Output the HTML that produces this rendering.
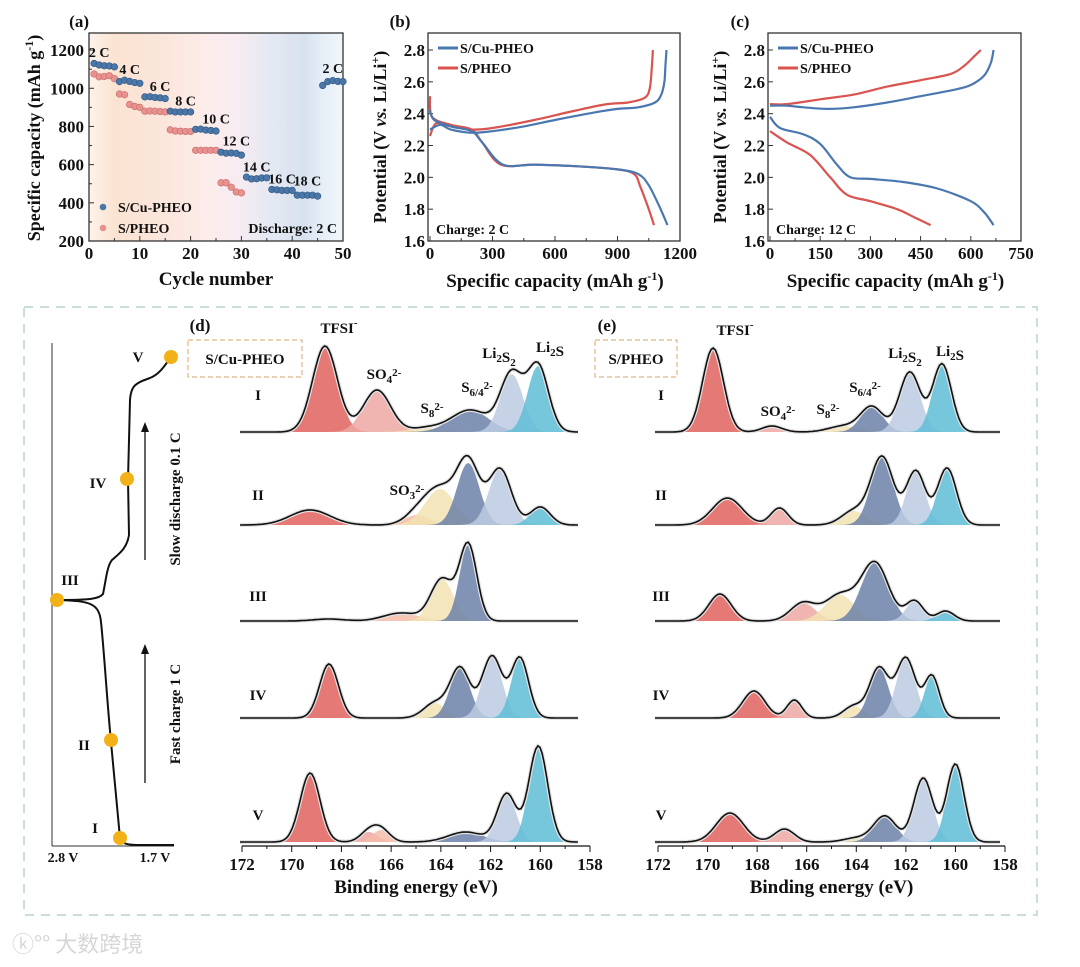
<!DOCTYPE html>
<html><head><meta charset="utf-8"><style>
html,body{margin:0;padding:0;background:#fff;}
svg{display:block;font-family:"Liberation Serif","Noto Serif CJK SC",serif;font-weight:bold;}
</style></head><body>
<svg id="fig" width="1080" height="967" viewBox="0 0 1080 967" xmlns="http://www.w3.org/2000/svg">
<defs>
<linearGradient id="bgA" x1="0" x2="1" y1="0" y2="0">
<stop offset="0" stop-color="#fdf3ec"/><stop offset="0.1" stop-color="#fbe3d2"/><stop offset="0.3" stop-color="#fbe6dc"/>
<stop offset="0.45" stop-color="#fdecea"/><stop offset="0.58" stop-color="#f7ecf1"/><stop offset="0.72" stop-color="#e4e8f3"/>
<stop offset="0.85" stop-color="#d8e2ef"/><stop offset="0.92" stop-color="#e6eef7"/><stop offset="1" stop-color="#f2f6fb"/>
</linearGradient>
</defs>
<g id="root"></g>
</svg>
<script>
// ---------- Panel (a) data ----------
const aCycles = [1,2,3,4,5,6,7,8,9,10,11,12,13,14,15,16,17,18,19,20,21,22,23,24,25,26,27,28,29,30,31,32,33,34,35,36,37,38,39,40,41,42,43,44,45,46,47,48,49,50];
const aCuPHEO = [1130,1122,1118,1117,1112,1035,1042,1036,1030,1026,955,956,952,950,946,880,876,876,876,876,785,786,781,779,776,665,660,661,659,650,535,525,526,530,531,470,468,465,465,465,440,440,440,440,435,1015,1035,1040,1036,1035];
const aPHEO = [1075,1060,1062,1066,1050,970,966,915,905,900,880,881,880,878,876,782,776,775,774,774,675,675,675,675,675,505,505,482,457,452];
const aRateLabels = ["2 C","4 C","6 C","8 C","10 C","12 C","14 C","16 C","18 C","2 C"];
const aRateLabelPos = [[2,1165],[8,1075],[14,985],[19,910],[25,815],[29,700],[33,565],[38,500],[43,490],[48,1080]];
const aYTicks = [200,400,600,800,1000,1200];
const aXTicks = [0,10,20,30,40,50];
// ---------- Panel (b) data ----------
const bCuCharge = [[0,2.30],[50,2.33],[100,2.3],[200,2.28],[300,2.29],[450,2.32],[600,2.36],[800,2.41],[900,2.43],[1000,2.44],[1080,2.47],[1110,2.52],[1125,2.6],[1130,2.7],[1135,2.8]];
const bCuDis = [[0,2.42],[20,2.36],[100,2.32],[200,2.29],[250,2.22],[350,2.08],[500,2.08],[700,2.07],[900,2.05],[1000,2.02],[1050,1.95],[1100,1.82],[1140,1.70]];
const bPhCharge = [[0,2.26],[30,2.34],[100,2.32],[200,2.30],[300,2.31],[500,2.36],[700,2.42],[850,2.46],[950,2.47],[1030,2.5],[1055,2.56],[1065,2.7],[1070,2.8]];
const bPhDis = [[0,2.51],[10,2.38],[100,2.33],[200,2.30],[250,2.22],[340,2.08],[500,2.08],[700,2.07],[900,2.05],[980,2.02],[1010,1.94],[1050,1.80],[1075,1.70]];
const bXTicks = [0,300,600,900,1200];
const vTicks = [1.6,1.8,2.0,2.2,2.4,2.6,2.8];
// ---------- Panel (c) data ----------
const cCuCharge = [[0,2.45],[50,2.45],[100,2.44],[170,2.43],[250,2.44],[350,2.47],[450,2.51],[550,2.55],[600,2.58],[640,2.64],[660,2.72],[668,2.8]];
const cCuDis = [[0,2.38],[30,2.31],[100,2.27],[150,2.21],[200,2.08],[240,2.0],[300,1.99],[400,1.97],[500,1.93],[600,1.85],[640,1.78],[668,1.70]];
const cPhCharge = [[0,2.46],[50,2.46],[150,2.49],[250,2.52],[350,2.57],[450,2.61],[540,2.65],[580,2.7],[610,2.76],[630,2.8]];
const cPhDis = [[0,2.29],[50,2.22],[120,2.14],[180,2.0],[230,1.89],[300,1.85],[380,1.80],[430,1.75],[480,1.70]];
const cXTicks = [0,150,300,450,600,750];
// ---------- XPS data: [speciesIndex, centre eV, height px, sigma eV] ----------
const speciesColors = ["#e0625e","#eda7a3","#f3bca8","#f2e2b2","#6c81a8","#bccbe2","#5fbdd6"];
const dSpectra = [
 [[0,168.66,86,0.5],[1,166.57,42,0.55],[3,164.6,4,0.6],[4,162.83,22,0.75],[5,161.15,58,0.45],[6,160.09,66,0.42]],
 [[0,169.26,15,0.8],[2,164.96,10,0.5],[3,164.03,36,0.6],[4,162.9,62,0.45],[5,161.62,56,0.45],[6,160.0,18,0.4]],
 [[0,168.5,2,0.6],[2,165.6,8,0.7],[3,163.95,42,0.45],[4,162.9,76,0.35]],
 [[0,168.5,54,0.38],[3,164.24,15,0.45],[4,163.23,50,0.4],[5,161.94,62,0.4],[6,160.82,60,0.35]],
 [[0,169.26,69,0.4],[1,166.9,10,0.35],[2,166.4,12,0.35],[4,163.0,10,0.7],[5,161.35,48,0.38],[6,160.08,96,0.38]]
];
const eSpectra = [
 [[0,169.78,84,0.42],[1,167.4,6,0.4],[3,164.5,6,0.6],[4,163.37,25,0.45],[5,161.84,60,0.42],[6,160.54,68,0.38]],
 [[0,169.2,27,0.6],[1,167.1,17,0.35],[3,164.1,14,0.5],[4,162.96,68,0.45],[5,161.6,54,0.38],[6,160.34,57,0.38]],
 [[0,169.5,27,0.45],[1,166.15,18,0.5],[3,164.66,26,0.6],[4,163.25,58,0.55],[5,161.65,20,0.35],[6,160.4,10,0.35]],
 [[0,168.13,27,0.45],[1,166.5,18,0.3],[3,164.1,12,0.4],[4,163.08,50,0.38],[5,162.0,60,0.38],[6,160.95,42,0.3]],
 [[0,169.1,29,0.55],[1,166.9,13,0.4],[3,164.0,4,0.5],[4,162.85,26,0.45],[5,161.3,64,0.38],[6,160.0,78,0.35]]
];
const romanLabels = ["I","II","III","IV","V"];
const xpsTicks = [172,170,168,166,164,162,160,158];

const NS="http://www.w3.org/2000/svg";
const root=document.getElementById('root');
function mk(tag,attrs,parent){const e=document.createElementNS(NS,tag);for(const k in attrs)e.setAttribute(k,attrs[k]);(parent||root).appendChild(e);return e;}
function txt(s,x,y,size,parent,anchor,extra){const t=mk('text',Object.assign({x:x,y:y,'font-size':size,'text-anchor':anchor||'middle',fill:'#111'},extra||{}),parent);t.textContent=s;return t;}
function lin(d0,d1,r0,r1){return v=>r0+(v-d0)*(r1-r0)/(d1-d0);}
function smooth(P){let d='M'+P[0][0].toFixed(1)+' '+P[0][1].toFixed(1);for(let i=0;i<P.length-1;i++){const p0=P[i-1]||P[i],p1=P[i],p2=P[i+1],p3=P[i+2]||p2;const c1=[p1[0]+(p2[0]-p0[0])/6,p1[1]+(p2[1]-p0[1])/6],c2=[p2[0]-(p3[0]-p1[0])/6,p2[1]-(p3[1]-p1[1])/6];d+=' C'+c1[0].toFixed(1)+' '+c1[1].toFixed(1)+' '+c2[0].toFixed(1)+' '+c2[1].toFixed(1)+' '+p2[0].toFixed(1)+' '+p2[1].toFixed(1);}return d;}

// ===== Panel (a) =====
(function(){
 const g=mk('g',{});
 
 
 const X=lin(0,50,89,343), Y=lin(200,1300,241,31);
 const bg=mk('rect',{x:89,y:33,width:254,height:208,fill:'url(#bgA)'},g);
 
 mk('rect',{x:89,y:33,width:254,height:208,fill:'none',stroke:'#333','stroke-width':1.3},g);
 const pa=txt('(a)',89,27,17,g,'end');
 aYTicks.forEach(v=>{mk('line',{x1:89,x2:94,y1:Y(v),y2:Y(v),stroke:'#333'},g);const t=txt(v,84,Y(v)+6,17,g,'end');});
 aYTicks.slice(0,-1).forEach(v=>mk('line',{x1:89,x2:92,y1:Y(v+100),y2:Y(v+100),stroke:'#333'},g));
 aXTicks.forEach(v=>{mk('line',{x1:X(v),x2:X(v),y1:241,y2:236,stroke:'#333'},g);const t=txt(v,X(v),259,17,g);if(v<50)mk('line',{x1:X(v+5),x2:X(v+5),y1:241,y2:238,stroke:'#333'},g);});
 const xt=txt('Cycle number',216,285,19,g);
 const yt=mk('text',{x:0,y:0,'font-size':18,'text-anchor':'middle',fill:'#111',transform:'translate(40,138) rotate(-90)'},g);
 yt.innerHTML='Specific capacity (mAh g<tspan dy="-7" font-size="12">-1</tspan><tspan dy="7">)</tspan>';
 
 aPHEO.forEach((v,i)=>{const c=mk('circle',{cx:X(aCycles[i]),cy:Y(v),r:3.3,fill:'#e8928f',stroke:'#c86a68','stroke-width':0.6},g);});
 aCuPHEO.forEach((v,i)=>{const c=mk('circle',{cx:X(aCycles[i]),cy:Y(v),r:3.3,fill:'#4a77a8',stroke:'#2f5580','stroke-width':0.6},g);});
 aRateLabels.forEach((s,i)=>{const p=aRateLabelPos[i];const t=txt(s,X(p[0]),Y(p[1]),14,g);});
 let l1=mk('circle',{cx:103,cy:207,r:3.3,fill:'#4a77a8'},g);
 let t1=txt('S/Cu-PHEO',118,212,14,g,'start');
 let l2=mk('circle',{cx:103,cy:228,r:3.3,fill:'#e8928f'},g);
 let t2=txt('S/PHEO',118,233,14,g,'start');
 let dn=txt('Discharge: 2 C',337,233,14,g,'end');
})();

// ===== Voltage panels (b) & (c) =====
function vPanel(name,label,x0,x1,xmax,xticks,series,note){
 const g=mk('g',{});
 
 
 const X=lin(0,xmax,x0,x1), Y=lin(1.6,2.8,241,50);
 mk('rect',{x:x0-2,y:33,width:x1-x0+2,height:208,fill:'none',stroke:'#333','stroke-width':1.3},g);
 const pl=txt(label,x0-30,27,17,g,'middle');
 vTicks.forEach(v=>{mk('line',{x1:x0-2,x2:x0+3,y1:Y(v),y2:Y(v),stroke:'#333'},g);const t=txt(v.toFixed(1),x0-5,Y(v)+6,17,g,'end');});
 xticks.forEach((v,i)=>{mk('line',{x1:X(v),x2:X(v),y1:241,y2:236,stroke:'#333'},g);const t=txt(v,X(v),259,17,g);if(i<xticks.length-1)mk('line',{x1:X(v+(xticks[1]-xticks[0])/2),x2:X(v+(xticks[1]-xticks[0])/2),y1:241,y2:238,stroke:'#333'},g);});
 const xt=mk('text',{x:(x0+x1)/2,y:287,'font-size':19,'text-anchor':'middle',fill:'#111'},g);
 xt.innerHTML='Specific capacity (mAh g<tspan dy="-7" font-size="12">-1</tspan><tspan dy="7">)</tspan>';
 
 const yt=mk('text',{x:0,y:0,'font-size':18,'text-anchor':'middle',fill:'#111',transform:'translate('+(x0-44)+',137) rotate(-90)'},g);
 yt.innerHTML='Potential (V <tspan font-style="italic">vs.</tspan> Li/Li<tspan dy="-7" font-size="12">+</tspan><tspan dy="7">)</tspan>';
 
 series.forEach(s=>{const d=smooth(s.pts.map(p=>[X(p[0]),Y(p[1])]));const p=mk('path',{d:d,fill:'none',stroke:s.c,'stroke-width':2.2,'stroke-linejoin':'round'},g);});
 mk('line',{x1:x0+8,x2:x0+28,y1:48,y2:48,stroke:'#4a77b0','stroke-width':3},g);
 let a=txt('S/Cu-PHEO',x0+30,53,14,g,'start');
 mk('line',{x1:x0+8,x2:x0+28,y1:68,y2:68,stroke:'#d9534f','stroke-width':3},g);
 let b=txt('S/PHEO',x0+30,73,14,g,'start');
 let n=txt(note,x0+6,234,14,g,'start');
}
vPanel('panel-b-voltage-2c','(b)',430,680,1200,bXTicks,[
 {pts:bPhDis,c:'#d9534f',n:'line-pheo-discharge'},{pts:bPhCharge,c:'#d9534f',n:'line-pheo-charge'},
 {pts:bCuDis,c:'#4a77b0',n:'line-cu-pheo-discharge'},{pts:bCuCharge,c:'#4a77b0',n:'line-cu-pheo-charge'}],'Charge: 2 C');
vPanel('panel-c-voltage-12c','(c)',770,1021,750,cXTicks,[
 {pts:cPhDis,c:'#d9534f',n:'line-pheo-discharge'},{pts:cPhCharge,c:'#d9534f',n:'line-pheo-charge'},
 {pts:cCuDis,c:'#4a77b0',n:'line-cu-pheo-discharge'},{pts:cCuCharge,c:'#4a77b0',n:'line-cu-pheo-charge'}],'Charge: 12 C');

// ===== Dashed frame =====
(function(){const r=mk('rect',{x:24,y:307,width:1013,height:608,fill:'none',stroke:'#c9dedd','stroke-width':2,'stroke-dasharray':'9 7'});})();

// ===== Timeline schematic =====
(function(){
 const g=mk('g',{});
 
 
 mk('line',{x1:52,x2:52,y1:343,y2:846,stroke:'#333','stroke-width':1},g);
 mk('line',{x1:52,x2:174,y1:846,y2:846,stroke:'#333','stroke-width':1},g);
 mk('path',{d:'M174 845 L140 845 C125 845 121 843 120 838 L111 742 C107 700 104 650 101 622 C99 603 90 601 58 600 C90 600 99 599 103 594 C106 580 107 566 112 560 C120 553 127 548 129 535 L128 480 L130 400 C131 385 136 383 150 378 C160 374 165 365 171 357',fill:'none',stroke:'#111','stroke-width':2},g);
 const pts=[[120,838],[111,740],[57,600],[127,479],[171,357]];
 const lp=[[95,828],[84,745],[70,580],[98,483],[138,357]];
 pts.forEach((p,i)=>{const c=mk('circle',{cx:p[0],cy:p[1],r:7,fill:'#f3b118'},g);const t=txt(romanLabels[i],lp[i][0],lp[i][1]+5,15,g);});
 mk('line',{x1:145,x2:145,y1:783,y2:652,stroke:'#111','stroke-width':1.3},g);
 mk('path',{d:'M141 654 L145 644 L149 654 Z',fill:'#111'},g);
 mk('line',{x1:145,x2:145,y1:560,y2:430,stroke:'#111','stroke-width':1.3},g);
 mk('path',{d:'M141 432 L145 422 L149 432 Z',fill:'#111'},g);
 let f=mk('text',{x:0,y:0,'font-size':15,'text-anchor':'middle',fill:'#111',transform:'translate(180,714) rotate(-90)'},g);f.textContent='Fast charge 1 C';
 let s=mk('text',{x:0,y:0,'font-size':15,'text-anchor':'middle',fill:'#111',transform:'translate(180,499) rotate(-90)'},g);s.textContent='Slow discharge 0.1 C';
 let a=txt('2.8 V',63,862,14,g);
 let b=txt('1.7 V',155,862,14,g);
})();

// ===== XPS panels =====
const baselines=[432,525,621,718,842];
const romanY=[400,500,601,700,820];
function xpsPanel(name,label,boxText,x0,x1,spectra,lineStart,lineEnd,romanX,boxX,boxW,annot){
 const g=mk('g',{});
 
 
 const X=lin(172,158,x0,x1);
 const pl=txt(label,boxX+12,331,17,g);
 const br=mk('rect',{x:boxX,y:340,width:boxW,height:37,fill:'none',stroke:'#d9a36a','stroke-width':1,'stroke-dasharray':'5 3'},g);
 
 const bt=txt(boxText,boxX+boxW/2,364,15,g);
 spectra.forEach((peaks,si)=>{
  const base=baselines[si];
  const N=160;
  const eA=172-(lineStart-x0)/(x1-x0)*14, eB=172-(lineEnd-x0)/(x1-x0)*14;
  const es=[];for(let i=0;i<=N;i++)es.push(eA+(eB-eA)*i/N);
  const gs=p=>e=>p[2]*Math.exp(-Math.pow(e-p[1],2)/(2*p[3]*p[3]));
  peaks.forEach(p=>{const f=gs(p);let d='M'+X(es[0]).toFixed(1)+' '+base;es.forEach(e=>d+=' L'+X(e).toFixed(1)+' '+(base-f(e)).toFixed(1));d+=' L'+X(es[N]).toFixed(1)+' '+base+' Z';const pa=mk('path',{d:d,fill:speciesColors[p[0]],'fill-opacity':0.85,stroke:'none'},g);});
  let d='';es.forEach((e,i)=>{let s=0;peaks.forEach(p=>s+=gs(p)(e));d+=(i?' L':'M')+X(e).toFixed(1)+' '+(base-s).toFixed(1);});
  mk('path',{d:d,fill:'none',stroke:'#e2e2e2','stroke-width':4},g);
  const env=mk('path',{d:d,fill:'none',stroke:'#111','stroke-width':1.6},g);
  const rl=txt(romanLabels[si],romanX,romanY[si],15,g);
 });
 mk('line',{x1:x0,x2:x1,y1:846,y2:846,stroke:'#111','stroke-width':1.3},g);
 xpsTicks.forEach((v,i)=>{mk('line',{x1:X(v),x2:X(v),y1:846,y2:852,stroke:'#111'},g);if(i<7)mk('line',{x1:X(v-1),x2:X(v-1),y1:846,y2:849,stroke:'#111'},g);const t=txt(v,X(v),870,17,g);});
 const xt=txt('Binding energy (eV)',(x0+x1)/2,893,19,g);
 annot.forEach(a=>{const t=mk('text',{x:a[1],y:a[2],'font-size':15,'text-anchor':'middle',fill:'#111'},g);t.innerHTML=a[0];});
}
const sup=(s)=>'<tspan dy="-7" font-size="11">'+s+'</tspan>';
const sub=(s)=>'<tspan dy="4" font-size="11">'+s+'</tspan><tspan dy="-4"></tspan>';
xpsPanel('panel-d-xps-cu-pheo','(d)','S/Cu-PHEO',242,590,dSpectra,240,578,258,188,114,[
 ['TFSI'+sup('-'),339,333],['SO'+sub('4')+sup('2-'),384,379],['S'+sub('8')+sup('2-'),432,413],['S'+sub('6/4')+sup('2-'),477,392],['Li'+sub('2')+'S'+sub('2'),499,358],['Li'+sub('2')+'S',550,352],['SO'+sub('3')+sup('2-'),407,495]]);
xpsPanel('panel-e-xps-pheo','(e)','S/PHEO',658,1005,eSpectra,655,1000,661,595,82,[
 ['TFSI'+sup('-'),735,335],['SO'+sub('4')+sup('2-'),778,416],['S'+sub('8')+sup('2-'),828,414],['S'+sub('6/4')+sup('2-'),865,392],['Li'+sub('2')+'S'+sub('2'),905,358],['Li'+sub('2')+'S',950,356]]);

// watermark
(function(){const t=txt('ⓚ°° 大数跨境',12,952,22,null,'start',{fill:'#d6d6d6','font-weight':'normal','font-family':'"Noto Sans CJK SC",sans-serif'});})();
</script>
</body></html>
